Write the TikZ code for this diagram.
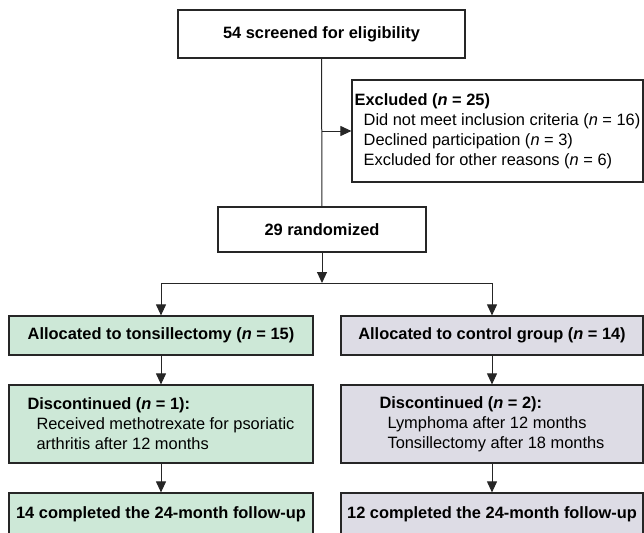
\documentclass[tikz,border=0pt]{standalone}
\usepackage{fontspec}
\setmainfont{Liberation Sans}
\usetikzlibrary{arrows.meta}
\definecolor{armgreen}{RGB}{205,232,215}
\definecolor{armgrey}{RGB}{221,220,229}

\begin{document}
\begin{tikzpicture}[x=1pt,y=-1pt,
  box/.style={rectangle,draw=black!85,line width=1.2pt,inner sep=0pt,align=left,
    font=\fontsize{16.4}{20}\selectfont},
  arr/.style={-{Triangle[length=11pt,width=10pt]},line width=1pt,draw=black!85}]
\useasboundingbox (0,0) rectangle (644,532);
\clip (0,0) rectangle (644,532);
\node[box,minimum width=287pt,minimum height=48pt] (screen) at (321.5,34) {\textbf{54 screened for eligibility}};
\node[box,minimum width=291pt,minimum height=102pt] (excl) at (497.5,131)
  {\textbf{Excluded (\textit{n} = 25)}\\
   \hspace*{9pt}Did not meet inclusion criteria (\textit{n} = 16)\\
   \hspace*{9pt}Declined participation (\textit{n} = 3)\\
   \hspace*{9pt}Excluded for other reasons (\textit{n} = 6)};
\node[box,minimum width=208pt,minimum height=45pt] (rand) at (322,229.5) {\textbf{29 randomized}};
\coordinate (exsplit) at (322,131);
\coordinate (armsplit) at (322,283);

\node[box,fill=armgreen,minimum width=304pt,minimum height=39pt] (alloctons) at (161,335.5)
  {\textbf{Allocated to tonsillectomy (\textit{n} = 15)}};
\node[box,fill=armgrey,minimum width=302pt,minimum height=39pt] (alloccontrol) at (492,335.5)
  {\textbf{Allocated to control group (\textit{n} = 14)}};
\node[box,fill=armgreen,minimum width=304pt,minimum height=78pt] (disctons) at (161,424)
  {\textbf{Discontinued (\textit{n} = 1):}\\
   \hspace*{9pt}Received methotrexate for psoriatic\\
   \hspace*{9pt}arthritis after 12 months};
\node[box,fill=armgrey,minimum width=302pt,minimum height=78pt] (disccontrol) at (492,424)
  {\textbf{Discontinued (\textit{n} = 2):}\\
   \hspace*{8pt}Lymphoma after 12 months\\
   \hspace*{8pt}Tonsillectomy after 18 months};
\node[box,fill=armgreen,minimum width=304pt,minimum height=42pt] (donetons) at (161,514)
  {\textbf{14 completed the 24-month follow-up}};
\node[box,fill=armgrey,minimum width=302pt,minimum height=42pt] (donecontrol) at (492,514)
  {\textbf{12 completed the 24-month follow-up}};

\draw[line width=1pt,draw=black!85] (screen) -- (rand);
\draw[arr] (exsplit) -- (excl);
\draw[arr] (rand) -- (armsplit);
\draw[arr] (armsplit) -| (alloctons);
\draw[arr] (armsplit) -| (alloccontrol);
\draw[arr] (alloctons) -- (disctons);
\draw[arr] (alloccontrol) -- (disccontrol);
\draw[arr] (disctons) -- (donetons);
\draw[arr] (disccontrol) -- (donecontrol);
\end{tikzpicture}
\end{document}
